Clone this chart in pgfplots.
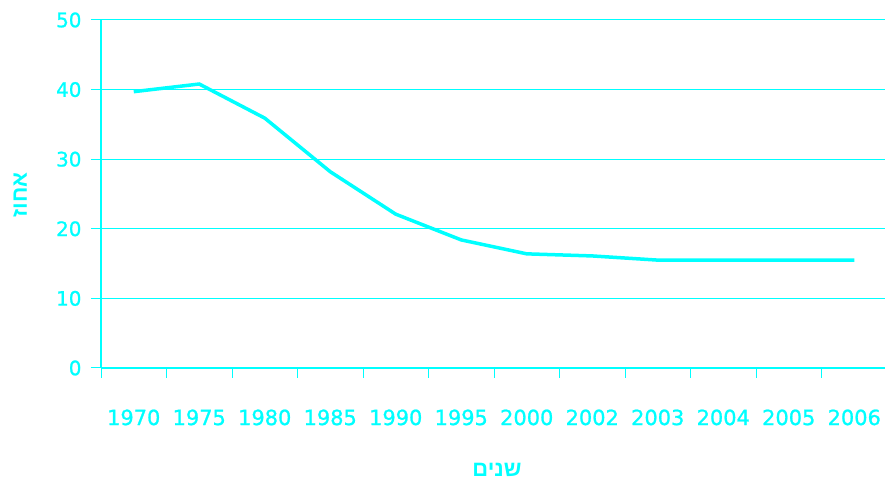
\documentclass[border=0pt]{standalone}
\usepackage{fontspec}
\setmainfont{DejaVu Sans}
\newfontfamily\tickfont{DejaVu Sans}[FakeBold=1]
\newfontfamily\hebfont[Script=Hebrew]{Liberation Sans}
\TeXXeTstate=1
\usepackage{pgfplots}
\pgfplotsset{compat=1.18}
\definecolor{cy}{HTML}{00FFFF}
\begin{document}
\begin{tikzpicture}[x=1bp,y=1bp]
\useasboundingbox (0,0) rectangle (885,484);
\begin{axis}[
  at={(101bp,116bp)}, anchor=south west,
  scale only axis, width=786bp, height=348bp,
  xmin=-0.5, xmax=11.5, ymin=0, ymax=50,
  axis x line=bottom, axis y line=left,
  axis line style={cy, line width=1.2bp, -},
  xtick={0,...,11},
  xticklabels={1970,1975,1980,1985,1990,1995,2000,2002,2003,2004,2005,2006},
  minor xtick={-0.5,0.5,...,11.5},
  ytick={0,10,...,50},
  tick style={cy, line width=1bp},
  every major x tick/.append style={draw=none},
  tick align=outside, major tick length=10bp, minor tick length=10bp,
  ytick align=outside,
  every major y tick/.append style={draw=cy, line width=1bp},
  extra y ticks={0,10,...,50},
  extra y tick labels={},
  extra y tick style={grid=none, tick align=outside, major tick length=10bp},
  ymajorgrids, grid style={cy, line width=1bp},
  /pgf/number format/assume math mode=true,
  xticklabel style={font=\tickfont\fontsize{21}{24}\selectfont, text=cy, yshift=-28bp},
  yticklabel style={font=\tickfont\fontsize{20}{24}\selectfont, text=cy, xshift=-6bp},
  clip=false,
]
\addplot[cy, line width=3.5bp] coordinates {
 (0,39.7) (1,40.8) (2,35.9) (3,28.2) (4,22.1) (5,18.4) (6,16.4) (7,16.1) (8,15.5) (9,15.5) (10,15.5) (11,15.5)};
\end{axis}
\node[text=cy, font=\hebfont\bfseries\fontsize{22}{26}\selectfont] at (497,484-470) {\beginR שנים\endR};
\node[text=cy, rotate=90, font=\hebfont\bfseries\fontsize{22}{26}\selectfont] at (20,484-195) {\beginR אחוז\endR};
\end{tikzpicture}
\end{document}
